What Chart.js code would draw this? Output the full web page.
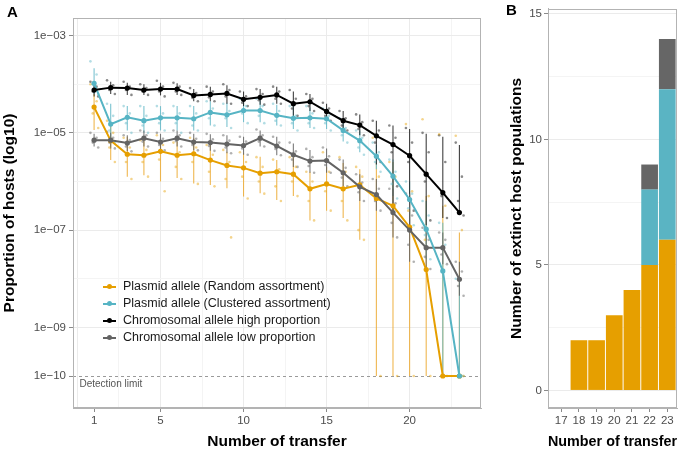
<!DOCTYPE html>
<html><head><meta charset="utf-8">
<script src="https://cdn.jsdelivr.net/npm/chart.js@4.4.1/dist/chart.umd.min.js"></script>
<style>
html,body{margin:0;padding:0;background:#fff;}
body{width:680px;height:451px;position:relative;overflow:hidden;font-family:"Liberation Sans",Arial,sans-serif;}
.pane{position:absolute;top:0;height:451px;}
.letter{position:absolute;font-weight:bold;font-size:15px;line-height:15px;color:#000;}
.lg{position:absolute;left:100px;height:17px;line-height:17px;font-size:12.5px;color:#1a1a1a;white-space:nowrap;}
.lg .sym{position:absolute;left:3px;top:8px;width:13px;height:2px;}
.lg .dot{position:absolute;left:7px;top:6.5px;width:5px;height:5px;border-radius:50%;}
.lg .txt{position:absolute;left:23px;top:0;}
</style></head>
<body>
<div class="pane" style="left:0;width:500px;"><canvas id="cA"></canvas></div>
<div class="pane" style="left:500px;width:180px;"><canvas id="cB"></canvas></div>
<div class="letter" style="left:7px;top:4px;">A</div>
<div class="letter" style="left:506px;top:2px;">B</div>
<div id="legend"></div>
<script>
// ---------- Panel A data (log10 of proportion) ----------
const TRANSFERS = [1,2,3,4,5,6,7,8,9,10,11,12,13,14,15,16,17,18,19,20,21,22,23];
const DETECTION_LIMIT = 1e-10;
const Y_TICK_EXP = [-10,-9,-8,-7,-6,-5,-4,-3];
const Y_LABEL_EXP = [-10,-9,-7,-5,-3];
const X_GRID = [0,1,2.5,5,7.5,10,12.5,15,17.5,20,22.5];
const X_LABELS = [1,5,10,15,20];

const SERIES_NAMES = ["Plasmid allele (Random assortment)","Plasmid allele (Clustered assortment)","Chromosomal allele high proportion","Chromosomal allele low proportion"];

const RANDOM_MEAN = [-4.47,-5.16,-5.44,-5.46,-5.38,-5.46,-5.43,-5.56,-5.67,-5.72,-5.83,-5.80,-5.85,-6.15,-6.05,-6.15,-6.07,-6.35,-6.50,-6.94,-7.81,-10,-10];
const RANDOM_HI   = [-4.20,-4.80,-5.08,-5.15,-5.15,-5.18,-5.11,-5.21,-5.39,-5.42,-5.49,-5.56,-5.50,-5.80,-5.70,-5.62,-5.75,-5.60,-5.60,-6.20,-6.30,-6.50,-7.05];
const RANDOM_LO   = [-4.94,-5.56,-5.90,-5.87,-6.00,-5.93,-6.04,-6.07,-6.14,-6.31,-6.24,-6.38,-6.30,-6.80,-6.60,-6.75,-7.20,-10,-10,-10,-10,-10,-10];

const CLUSTERED_MEAN = [-3.98,-4.82,-4.68,-4.75,-4.69,-4.69,-4.71,-4.58,-4.63,-4.54,-4.54,-4.64,-4.70,-4.69,-4.71,-4.95,-5.16,-5.48,-5.89,-6.37,-6.98,-7.84,-10];
const CLUSTERED_HI   = [-3.67,-4.40,-4.45,-4.45,-4.45,-4.45,-4.45,-4.35,-4.38,-4.30,-4.33,-4.42,-4.45,-4.48,-4.50,-4.72,-4.95,-5.25,-5.55,-6.00,-6.40,-6.85,-8.00];
const CLUSTERED_LO   = [-4.20,-5.20,-4.95,-5.00,-4.95,-4.95,-4.95,-4.85,-4.88,-4.78,-4.78,-4.85,-4.92,-4.90,-4.92,-5.18,-5.40,-5.75,-6.30,-6.90,-7.60,-10,-10];

const HIGH_MEAN = [-4.12,-4.07,-4.08,-4.12,-4.10,-4.10,-4.23,-4.21,-4.19,-4.31,-4.27,-4.22,-4.40,-4.36,-4.56,-4.75,-4.84,-5.06,-5.24,-5.47,-5.85,-6.23,-6.64];
const HIGH_HI   = [-3.98,-3.95,-3.97,-4.00,-3.97,-3.98,-4.10,-4.05,-4.02,-4.15,-4.10,-4.05,-4.15,-4.20,-4.40,-4.55,-4.62,-4.75,-4.85,-4.92,-5.02,-5.08,-5.25];
const HIGH_LO   = [-4.25,-4.20,-4.22,-4.22,-4.23,-4.22,-4.35,-4.35,-4.40,-4.45,-4.42,-4.40,-4.65,-4.55,-4.75,-4.95,-5.05,-5.65,-6.60,-6.90,-6.90,-6.75,-6.66];

const LOW_MEAN = [-5.15,-5.15,-5.21,-5.11,-5.19,-5.11,-5.19,-5.20,-5.23,-5.26,-5.11,-5.27,-5.45,-5.58,-5.57,-5.82,-6.11,-6.27,-6.64,-7.00,-7.36,-7.36,-8.01];
const LOW_HI   = [-5.02,-5.00,-5.05,-4.95,-5.02,-4.95,-5.02,-5.03,-5.05,-5.08,-4.95,-5.08,-5.22,-5.35,-5.32,-5.55,-5.85,-5.95,-6.15,-6.25,-6.95,-7.05,-7.65];
const LOW_LO   = [-5.28,-5.32,-5.38,-5.28,-5.36,-5.28,-5.36,-5.37,-5.42,-5.45,-5.28,-5.46,-5.70,-5.82,-5.82,-6.10,-6.40,-6.60,-7.15,-7.65,-7.80,-7.70,-8.35];

// individual replicate values (log10), 4 per transfer
const RANDOM_PTS = [[-4.0,-4.35,-4.6,-4.9],[-4.75,-5.0,-5.3,-5.6],[-5.1,-5.3,-5.6,-5.95],[-5.15,-5.35,-5.6,-5.9],[-5.05,-5.25,-5.55,-6.2],[-5.2,-5.4,-5.7,-5.95],[-5.1,-5.3,-5.6,-6.05],[-5.25,-5.45,-5.8,-6.1],[-5.35,-5.6,-5.95,-7.15],[-5.4,-5.6,-5.9,-6.35],[-5.5,-5.7,-6.0,-6.25],[-5.55,-5.75,-6.1,-6.4],[-5.5,-5.7,-6.0,-6.3],[-5.8,-6.0,-6.4,-6.8],[-5.4,-5.8,-6.2,-6.6],[-5.5,-5.8,-6.4,-6.8],[-5.7,-5.9,-7.0,-7.2],[-5.1,-5.9,-6.3,-10],[-5.6,-5.9,-6.6,-10],[-4.82,-6.2,-6.6,-10],[-4.72,-6.3,-7.2,-10],[-5.03,-6.5,-10,-10],[-5.06,-7.0,-10,-10]];
const CLUSTERED_PTS = [[-3.53,-3.8,-4.0,-4.2],[-4.4,-4.65,-4.95,-5.2],[-4.45,-4.6,-4.8,-5.0],[-4.45,-4.65,-4.85,-5.0],[-4.45,-4.6,-4.8,-4.95],[-4.45,-4.6,-4.8,-5.0],[-4.45,-4.6,-4.85,-4.95],[-4.35,-4.5,-4.7,-4.85],[-4.4,-4.55,-4.7,-4.9],[-4.3,-4.45,-4.6,-4.8],[-4.3,-4.45,-4.65,-4.8],[-4.4,-4.55,-4.75,-4.85],[-4.45,-4.65,-4.8,-4.95],[-4.45,-4.6,-4.8,-4.9],[-4.5,-4.65,-4.8,-4.95],[-4.7,-4.9,-5.05,-5.2],[-4.95,-5.1,-5.3,-5.45],[-5.2,-5.4,-5.6,-5.8],[-5.55,-5.8,-6.05,-6.35],[-6.0,-6.25,-6.55,-6.9],[-6.4,-6.7,-7.1,-7.6],[-6.85,-7.3,-10,-10],[-8.0,-10,-10,-10]];
const HIGH_PTS = [[-3.95,-4.05,-4.15,-4.25],[-3.92,-4.02,-4.12,-4.2],[-3.95,-4.05,-4.12,-4.22],[-4.0,-4.08,-4.15,-4.22],[-3.93,-4.05,-4.15,-4.25],[-3.97,-4.05,-4.15,-4.22],[-4.08,-4.18,-4.28,-4.35],[-4.05,-4.15,-4.27,-4.35],[-4.0,-4.12,-4.25,-4.4],[-4.15,-4.25,-4.38,-4.45],[-4.1,-4.2,-4.33,-4.42],[-4.05,-4.15,-4.3,-4.4],[-4.12,-4.3,-4.5,-4.65],[-4.2,-4.3,-4.45,-4.55],[-4.38,-4.5,-4.65,-4.75],[-4.55,-4.7,-4.85,-4.95],[-4.62,-4.78,-4.92,-5.05],[-4.75,-4.95,-5.2,-5.6],[-4.85,-5.1,-5.4,-6.1],[-4.9,-5.2,-5.6,-6.6],[-5.0,-5.4,-6.0,-6.8],[-5.05,-5.6,-6.3,-6.75],[-5.2,-5.9,-6.4,-6.7]];
const LOW_PTS = [[-5.0,-5.1,-5.2,-5.3],[-4.98,-5.1,-5.2,-5.32],[-5.05,-5.15,-5.28,-5.38],[-4.95,-5.05,-5.18,-5.28],[-5.0,-5.12,-5.25,-5.36],[-4.95,-5.05,-5.17,-5.28],[-5.0,-5.12,-5.25,-5.36],[-5.02,-5.13,-5.27,-5.37],[-5.05,-5.16,-5.3,-5.42],[-5.08,-5.18,-5.32,-5.45],[-4.93,-5.05,-5.18,-5.28],[-5.08,-5.2,-5.33,-5.46],[-5.2,-5.38,-5.55,-5.7],[-5.33,-5.5,-5.68,-5.82],[-5.3,-5.48,-5.66,-5.82],[-5.55,-5.72,-5.92,-6.1],[-5.85,-6.02,-6.22,-6.4],[-5.95,-6.15,-6.4,-6.6],[-6.15,-6.45,-6.85,-7.15],[-6.25,-6.7,-7.3,-7.65],[-6.95,-7.2,-7.55,-7.8],[-7.05,-7.2,-7.5,-7.7],[-7.65,-7.85,-8.15,-8.35]];
const JITTER = [-0.22,0.15,-0.08,0.25];

// ---------- Panel B data ----------
const B_TRANSFERS = [17,18,19,20,21,22,23];
const B_RANDOM    = [0,2,2,3,4,5,6];
const B_CLUSTERED = [0,0,0,0,0,3,6];
const B_LOW       = [0,0,0,0,0,1,2];
const B_HIGH      = [0,0,0,0,0,0,0];
const B_Y_GRID = [0,2.5,5,7.5,10,12.5,15];

// ---------- styles ----------
const FONT = '"Liberation Sans", Arial, sans-serif';
Chart.defaults.font.family = FONT;
const C_ORANGE = '#E69F00', C_TEAL = '#56B4C4', C_BLACK = '#000000', C_GRAY = '#636363';
const SERIES = [
  {name:SERIES_NAMES[0], color:C_ORANGE, pt:'rgba(230,159,0,0.45)', bar:'rgba(236,170,50,0.85)', mean:RANDOM_MEAN, hi:RANDOM_HI, lo:RANDOM_LO, pts:RANDOM_PTS},
  {name:SERIES_NAMES[1], color:C_TEAL, pt:'rgba(86,180,196,0.45)', bar:'rgba(100,185,200,0.85)', mean:CLUSTERED_MEAN, hi:CLUSTERED_HI, lo:CLUSTERED_LO, pts:CLUSTERED_PTS},
  {name:SERIES_NAMES[2], color:C_BLACK, pt:'rgba(40,40,40,0.55)', bar:'rgba(30,30,30,0.85)', mean:HIGH_MEAN, hi:HIGH_HI, lo:HIGH_LO, pts:HIGH_PTS},
  {name:SERIES_NAMES[3], color:C_GRAY, pt:'rgba(99,99,99,0.5)', bar:'rgba(99,99,99,0.85)', mean:LOW_MEAN, hi:LOW_HI, lo:LOW_LO, pts:LOW_PTS}
];
const TICK_FONT = {size:11.5, family:FONT};
const TICK_COLOR = '#4D4D4D';
const TITLE_FONT = {size:15.5, weight:'bold', family:FONT};
const GRID_MAJOR = '#EBEBEB', GRID_MINOR = '#F4F4F4', FRAME = '#B3B3B3', TICKMARK = '#8A8A8A';

const e10 = v => Math.pow(10, v);
const expLabel = e => '1e' + (e < 0 ? '\u2212' : '+') + String(Math.abs(e)).padStart(2,'0');

// datasets: means (on top), then replicate points
const datasetsA = [];
SERIES.forEach((s, si) => {
  datasetsA.push({
    label: s.name,
    data: TRANSFERS.map((t,i) => ({x:t, y:e10(s.mean[i])})),
    borderColor: s.color, backgroundColor: s.color,
    borderWidth: 2, pointRadius: 2.6, pointBorderWidth: 0, pointBackgroundColor: s.color,
    order: [3,1,0,2][si], tension: 0
  });
});
SERIES.forEach((s) => {
  const d = [];
  TRANSFERS.forEach((t,i) => s.pts[i].forEach((v,j) => d.push({x:t + JITTER[j], y:e10(v)})));
  datasetsA.push({label:'_pts', data:d, showLine:false, pointRadius:1.3, pointBorderWidth:0,
    pointBackgroundColor:s.pt, borderColor:s.pt, order:10});
});

const frame = {
  id:'frame',
  afterDraw(chart){
    const {ctx, chartArea:a} = chart;
    ctx.save(); ctx.strokeStyle = FRAME; ctx.lineWidth = 1;
    ctx.strokeRect(Math.round(a.left)+0.5, Math.round(a.top)+0.5, Math.round(a.right-a.left)-1, Math.round(a.bottom-a.top)-1);
    ctx.restore();
  }
};

const errorBars = {
  id:'errorBars',
  beforeDatasetsDraw(chart){
    const {ctx, chartArea:a, scales:{x,y}} = chart;
    ctx.save();
    // detection limit
    const yl = Math.round(y.getPixelForValue(DETECTION_LIMIT)) + 0.5;
    ctx.strokeStyle = '#9A9A9A'; ctx.lineWidth = 1; ctx.setLineDash([3,3]);
    ctx.beginPath(); ctx.moveTo(a.left, yl); ctx.lineTo(a.right, yl); ctx.stroke();
    ctx.setLineDash([]);
    ctx.fillStyle = '#555555'; ctx.font = '10px ' + FONT; ctx.textBaseline = 'middle'; ctx.textAlign = 'left';
    ctx.fillText('Detection limit', a.left + 6.5, yl + 7.5);
    // error bars
    SERIES.forEach(s => {
      ctx.strokeStyle = s.bar; ctx.lineWidth = 1.1;
      TRANSFERS.forEach((t,i) => {
        const px = x.getPixelForValue(t);
        ctx.beginPath();
        ctx.moveTo(px, y.getPixelForValue(e10(s.hi[i])));
        ctx.lineTo(px, y.getPixelForValue(e10(s.lo[i])));
        ctx.stroke();
      });
    });
    ctx.restore();
  }
};

new Chart(document.getElementById('cA'), {
  type:'line',
  data:{datasets:datasetsA},
  options:{
    responsive:true, maintainAspectRatio:false, animation:false, devicePixelRatio:1,
    layout:{padding:{top:18, right:19, left:0, bottom:0}},
    plugins:{legend:{display:false}, tooltip:{enabled:false}},
    scales:{
      x:{type:'linear', min:-0.27, max:24.3,
        afterBuildTicks: s => { s.ticks = X_GRID.map(v => ({value:v})); },
        afterFit: s => { s.height = 43; },
        ticks:{autoSkip:false, maxRotation:0, padding:2, color:TICK_COLOR, font:TICK_FONT,
          callback: v => X_LABELS.includes(v) ? String(v) : ''},
        grid:{color: c => (c.tick && c.tick.value === 1) ? 'rgba(0,0,0,0)' : ((c.tick && c.tick.value % 5 === 0) ? GRID_MAJOR : GRID_MINOR),
          tickColor: c => (c.tick && X_LABELS.includes(c.tick.value)) ? TICKMARK : 'rgba(0,0,0,0)', tickLength:4, lineWidth:1},
        border:{display:true, color:FRAME},
        title:{display:true, text:'Number of transfer', color:'#000', font:TITLE_FONT, padding:{top:0,bottom:0}}
      },
      y:{type:'logarithmic', min:2.2e-11, max:2.3e-3,
        afterBuildTicks: s => { s.ticks = Y_TICK_EXP.map(e => ({value:e10(e)})); },
        afterFit: s => { s.width = 73; },
        ticks:{autoSkip:false, padding:3, color:TICK_COLOR, font:TICK_FONT,
          callback: v => { const e = Math.round(Math.log10(v)); return Y_LABEL_EXP.includes(e) ? expLabel(e) : ''; }},
        grid:{color: c => { if(!c.tick) return GRID_MINOR; const e = Math.round(Math.log10(c.tick.value)); if (e === -10) return 'rgba(0,0,0,0)'; return (e % 2 !== 0) ? GRID_MAJOR : GRID_MINOR; },
          tickColor: c => { if(!c.tick) return 'rgba(0,0,0,0)'; const e = Math.round(Math.log10(c.tick.value)); return Y_LABEL_EXP.includes(e) ? TICKMARK : 'rgba(0,0,0,0)'; }, tickLength:4},
        border:{display:true, color:FRAME},
        title:{display:true, text:'Proportion of hosts (log10)', color:'#000', font:TITLE_FONT, padding:{top:0,bottom:0}}
      }
    }
  },
  plugins:[errorBars, frame]
});

// ---------- Panel B ----------
const barDs = (label, vals, color) => ({label, data:B_TRANSFERS.map((t,i)=>({x:t, y:vals[i]})), backgroundColor:color, borderWidth:0,
  categoryPercentage:1, barPercentage:0.945});
new Chart(document.getElementById('cB'), {
  type:'bar',
  data:{datasets:[
    barDs(SERIES_NAMES[0], B_RANDOM, C_ORANGE),
    barDs(SERIES_NAMES[1], B_CLUSTERED, '#5AB4C3'),
    barDs(SERIES_NAMES[2], B_HIGH, C_BLACK),
    barDs(SERIES_NAMES[3], B_LOW, '#666666')
  ]},
  options:{
    responsive:true, maintainAspectRatio:false, animation:false, devicePixelRatio:1,
    layout:{padding:{top:7, right:3, left:0, bottom:0}},
    plugins:{legend:{display:false}, tooltip:{enabled:false}},
    scales:{
      x:{type:'linear', stacked:true, min:16.25, max:23.55, offset:false,
        afterBuildTicks: s => { s.ticks = B_TRANSFERS.map(v => ({value:v})); },
        afterFit: s => { s.height = 43; },
        ticks:{autoSkip:false, maxRotation:0, padding:2, color:TICK_COLOR, font:TICK_FONT, callback: v => String(v)},
        grid:{offset:false, color:'rgba(0,0,0,0)', tickColor:TICKMARK, tickLength:4},
        border:{display:true, color:FRAME},
        title:{display:true, text:'Number of transfer', align:'end', color:'#000', font:TITLE_FONT, padding:{top:0,bottom:0}}
      },
      y:{type:'linear', stacked:true, min:-0.7, max:15.2,
        afterBuildTicks: s => { s.ticks = B_Y_GRID.map(v => ({value:v})); },
        afterFit: s => { s.width = 48; },
        ticks:{autoSkip:false, padding:2, color:TICK_COLOR, font:TICK_FONT, callback: v => (v % 5 === 0) ? String(v) : ''},
        grid:{color: c => (c.tick && c.tick.value % 5 === 0) ? GRID_MAJOR : GRID_MINOR,
          tickColor: c => (c.tick && c.tick.value % 5 === 0) ? TICKMARK : 'rgba(0,0,0,0)', tickLength:4},
        border:{display:true, color:FRAME},
        title:{display:true, text:'Number of extinct host populations', color:'#000', font:TITLE_FONT, padding:{top:7,bottom:0}}
      }
    }
  },
  plugins:[frame]
});

// ---------- legend (HTML) ----------
const lg = document.getElementById('legend');
SERIES.forEach((s, i) => {
  const row = document.createElement('div');
  row.className = 'lg';
  row.style.top = (277.5 + 17.1 * i) + 'px';
  row.innerHTML = '<div class="sym" style="background:'+s.color+'"></div><div class="dot" style="background:'+s.color+'"></div><div class="txt"></div>';
  row.querySelector('.txt').textContent = s.name;
  lg.appendChild(row);
});
</script>
</body></html>
